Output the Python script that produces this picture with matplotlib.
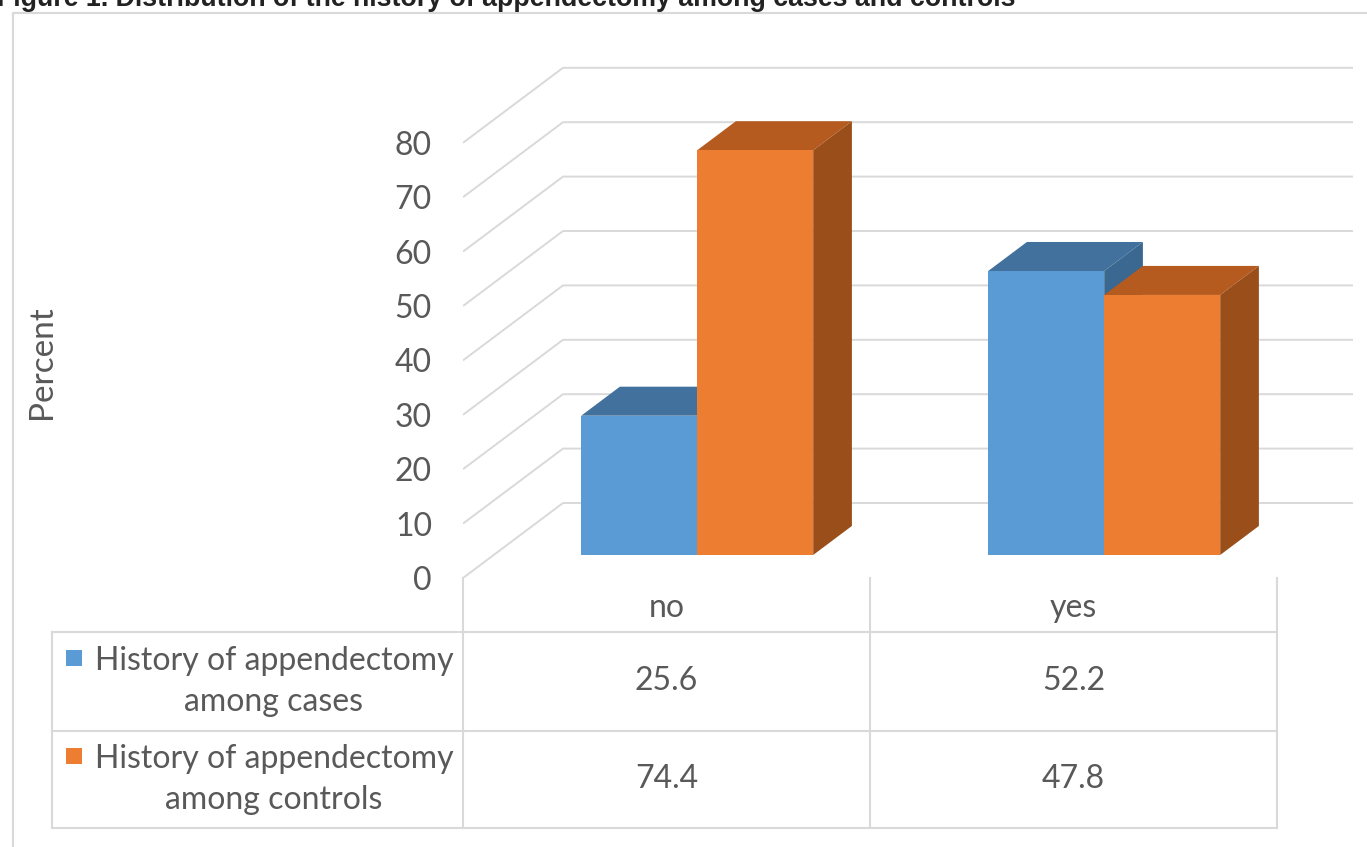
import numpy as np
import matplotlib
matplotlib.use('Agg')
from matplotlib import pyplot as plt
from matplotlib.patches import Rectangle

categories = ['no', 'yes']
series_names = ['History of appendectomy\namong cases',
                'History of appendectomy\namong controls']
cases = [25.6, 52.2]
controls = [74.4, 47.8]
yticks = [0, 10, 20, 30, 40, 50, 60, 70, 80]
title = 'Figure 1. Distribution of the history of appendectomy among cases and controls'

W, H = 1367, 847
GRID = '#d9d9d9'
TXT = '#595959'
front_cols = ['#5b9bd5', '#ed7d31']
top_cols = ['#41719c', '#b65b20']
side_cols = ['#3a6890', '#9a4e1a']

plt.rcParams['font.family'] = ['Lato', 'DejaVu Sans']
fs = 23

fig = plt.figure(figsize=(W / 100, H / 100), dpi=100)

# pixel overlay for frame + data table
ov = fig.add_axes([0, 0, 1, 1], zorder=0)
ov.set_xlim(0, W)
ov.set_ylim(H, 0)
ov.axis('off')

# chart axes, 1 x-unit = one category column
x0_px, x1_px = 463, 1353
y0_px = 578
px_per = 5.44
col_px = 407
ymax = 95
ax = fig.add_axes([x0_px / W, (H - y0_px) / H, (x1_px - x0_px) / W, ymax * px_per / H], zorder=1)
ax.patch.set_visible(False)
xmax = (x1_px - x0_px) / col_px
ax.set_xlim(0, xmax)
ax.set_ylim(0, ymax)
for s in ax.spines.values():
    s.set_visible(False)

DX = 100 / col_px      # depth offset
DY = 75 / px_per

# walls gridlines
for v in yticks:
    ax.plot([0, DX, xmax], [v, v + DY, v + DY], color=GRID, lw=1.4, solid_capstyle='butt', zorder=1)

# bars
bw = 116 / col_px
f0 = 0.307
fb = 0.387
for i, cat in enumerate(categories):
    c = i + 0.5
    for j, vals in enumerate([cases, controls]):
        v = vals[i]
        x = c - bw + j * bw + f0 * DX
        yb = f0 * DY
        ddx, ddy = fb * DX, fb * DY
        ax.fill([x, x + bw, x + bw + ddx, x + ddx], [yb + v, yb + v, yb + v + ddy, yb + v + ddy],
                color=top_cols[j], lw=0, zorder=2 + j)
        ax.fill([x + bw, x + bw + ddx, x + bw + ddx, x + bw], [yb, yb + ddy, yb + v + ddy, yb + v],
                color=side_cols[j], lw=0, zorder=2 + j)
        ax.bar(x, v, width=bw, bottom=yb, align='edge', color=front_cols[j], lw=0, zorder=2 + j)

ax.set_xticks([])
ax.set_yticks(yticks)
ax.set_yticklabels([str(t) for t in yticks], fontsize=fs, color=TXT)
ax.tick_params(axis='y', length=0, pad=31 * 0.72)
ax.set_ylabel('Percent', fontsize=fs + 1, color=TXT)
ax.yaxis.set_label_coords((57 - x0_px) / (x1_px - x0_px), (y0_px - 362) / (ymax * px_per))

# frame
ov.plot([13, 13, W + 5], [H + 5, 13, 13], color=GRID, lw=1.5)

# data table
col_edges = [x0_px + k * col_px for k in range(len(categories) + 1)]
row_lines = [632, 731, 828]
for yl in row_lines:
    ov.plot([52, col_edges[-1]], [yl, yl], color=GRID, lw=1.5)
ov.plot([52, 52], [row_lines[0], row_lines[-1]], color=GRID, lw=1.5)
for xe in col_edges:
    ov.plot([xe, xe], [y0_px, row_lines[-1]], color=GRID, lw=1.5)

for k, cat in enumerate(categories):
    xc = (col_edges[k] + col_edges[k + 1]) / 2
    ov.text(xc, 608, cat, ha='center', va='center', fontsize=fs, color=TXT)
    for r, vals in enumerate([cases, controls]):
        yc = (row_lines[r] + row_lines[r + 1]) / 2
        ov.text(xc, yc, f'{vals[k]:.1f}', ha='center', va='center', fontsize=fs, color=TXT)

for r, name in enumerate(series_names):
    yc = (row_lines[r] + row_lines[r + 1]) / 2
    ov.add_patch(Rectangle((66, yc - 31), 16, 16, color=front_cols[r], lw=0))
    ov.text(274, yc, name, ha='center', va='center', fontsize=fs, color=TXT, linespacing=1.45)

fig.text(-3 / W, 1 - 6 / H, title, ha='left', va='baseline', fontsize=19.3,
         fontweight='bold', color='#222222', family=['Liberation Sans', 'DejaVu Sans'])

fig.savefig('out.png', dpi=100)
